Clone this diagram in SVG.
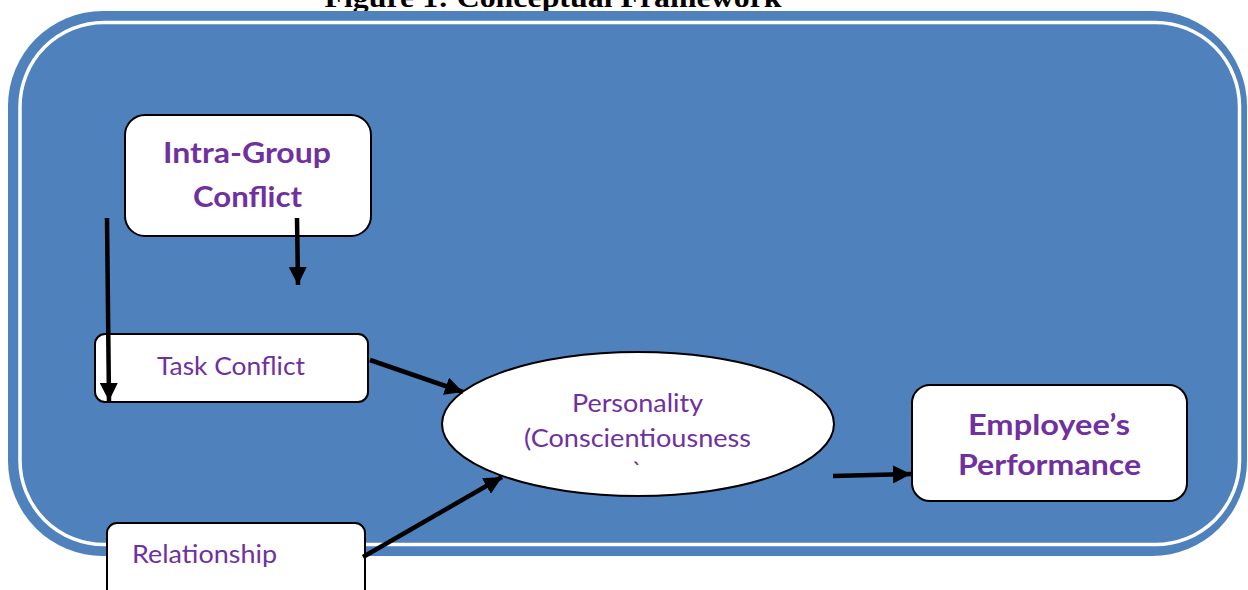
<svg xmlns="http://www.w3.org/2000/svg" width="1248" height="590" viewBox="0 0 1248 590">
<defs>
<style>
.box{fill:#fff;stroke:#000;stroke-width:2}
.t{font-family:Lato,"Open Sans","Liberation Sans",sans-serif;fill:#7030A0;text-anchor:middle}
.b{font-weight:bold;font-size:29px}
.r{font-size:25px}
.c{fill:none;stroke:#000;stroke-width:4.5}
</style>
<marker id="ah" markerUnits="userSpaceOnUse" markerWidth="20" markerHeight="18" refX="18" refY="9" orient="auto">
<path d="M0,0 L18,9 L0,18 Z" fill="#000"/>
</marker>
</defs>
<rect width="1248" height="590" fill="#fff"/>
<text x="553" y="7" font-family="Liberation Serif,serif" font-weight="bold" font-size="28" text-anchor="middle" textLength="457" lengthAdjust="spacingAndGlyphs" fill="#000">Figure 1: Conceptual Framework</text>
<g id="frame">
<rect x="8" y="11" width="1239" height="545" rx="95" fill="#4F81BD"/>
<rect x="20" y="22.5" width="1219.5" height="522" rx="84" fill="none" stroke="#fff" stroke-width="3.5"/>
</g>
<g id="intra-group">
<rect class="box" x="125" y="115" width="246" height="121" rx="20"/>
<text class="t b" x="247" y="163" textLength="168" lengthAdjust="spacingAndGlyphs">Intra-Group</text>
<text class="t b" x="247.5" y="207" textLength="109" lengthAdjust="spacingAndGlyphs">Conflict</text>
</g>
<g id="task-conflict">
<rect class="box" x="95" y="334" width="273" height="68" rx="10"/>
<text class="t r" x="231" y="375" textLength="148" lengthAdjust="spacingAndGlyphs">Task Conflict</text>
</g>
<g id="personality">
<ellipse cx="638" cy="424" rx="196" ry="72" fill="#fff" stroke="#000" stroke-width="2"/>
<text class="t r" x="637.5" y="412" textLength="131" lengthAdjust="spacingAndGlyphs">Personality</text>
<text class="t r" x="637.5" y="447" textLength="227" lengthAdjust="spacingAndGlyphs">(Conscientiousness</text>
<text class="t r" x="637" y="480">`</text>
</g>
<g id="relationship">
<rect class="box" x="107" y="523" width="258" height="80" rx="10"/>
<text class="t r" x="204.5" y="563" textLength="145" lengthAdjust="spacingAndGlyphs">Relationship</text>
</g>
<g id="performance">
<rect class="box" x="912" y="385" width="275" height="116" rx="18"/>
<text class="t b" x="1049" y="435" textLength="162" lengthAdjust="spacingAndGlyphs">Employee’s</text>
<text class="t b" x="1049.5" y="475" textLength="183" lengthAdjust="spacingAndGlyphs">Performance</text>
</g>
<g id="connectors">
<line class="c" x1="107" y1="218" x2="109" y2="401" marker-end="url(#ah)"/>
<line class="c" x1="297" y1="218" x2="298" y2="285" marker-end="url(#ah)"/>
<line class="c" x1="370" y1="360" x2="463" y2="392" marker-end="url(#ah)"/>
<line class="c" x1="363" y1="557" x2="502" y2="477" marker-end="url(#ah)"/>
<line class="c" x1="833" y1="476" x2="911" y2="474" marker-end="url(#ah)"/>
</g>
</svg>
